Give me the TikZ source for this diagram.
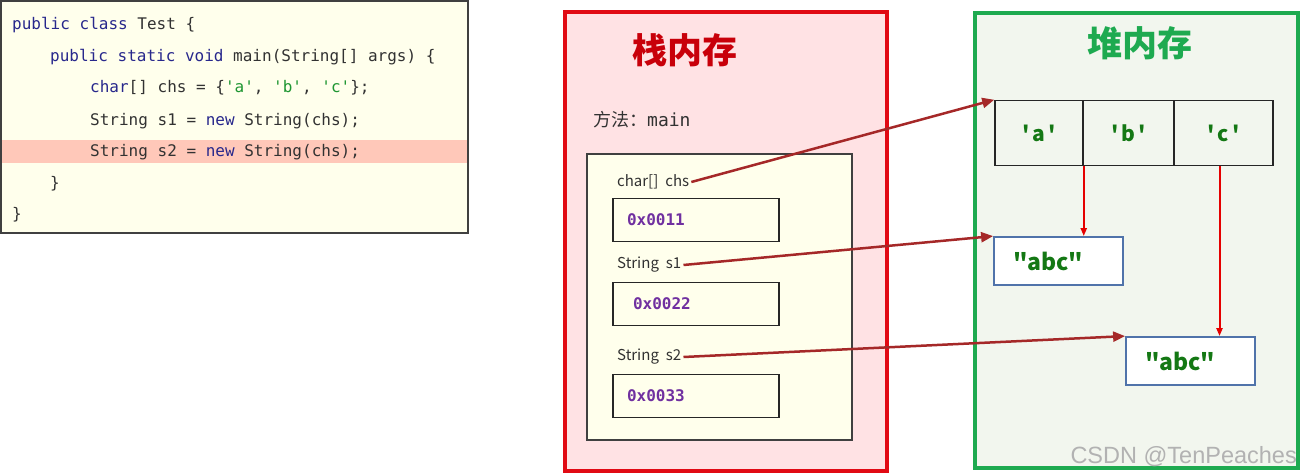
\documentclass[tikz,border=0pt]{standalone}
\usepackage{fontspec}
\setmonofont{DejaVu Sans Mono}
\newfontfamily\cjk{Noto Sans CJK SC}
\newfontfamily\wmfont{Liberation Sans}
\usepackage{xcolor}
\usetikzlibrary{arrows.meta,positioning}
\definecolor{codebg}{RGB}{255,255,236}
\definecolor{hlrow}{RGB}{255,200,185}
\definecolor{kwblue}{RGB}{40,40,140}
\definecolor{codegray}{RGB}{50,50,50}
\definecolor{chrgreen}{RGB}{30,150,50}
\definecolor{stackred}{RGB}{225,10,20}
\definecolor{stackbg}{RGB}{255,226,228}
\definecolor{stacktitle}{RGB}{200,0,10}
\definecolor{heapgreen}{RGB}{30,170,80}
\definecolor{heapbg}{RGB}{242,246,238}
\definecolor{addr}{RGB}{112,48,160}
\definecolor{ptr}{RGB}{165,40,40}
\definecolor{objblue}{RGB}{80,115,170}
\definecolor{valgreen}{RGB}{20,120,20}
\newcommand{\kw}[1]{\textcolor{kwblue}{#1}}
\newcommand{\chq}[1]{\textcolor{chrgreen}{\textquotesingle#1\textquotesingle}}
\tikzset{
  codeln/.style={anchor=base west, inner sep=0pt, text=codegray,
                 font=\ttfamily\fontsize{16}{18}\selectfont},
  varlab/.style={anchor=west, inner sep=2pt, text=codegray,
                 font=\cjk\fontsize{15}{17}\selectfont},
  addrbox/.style={draw=black!85, line width=1.5, minimum height=43,
                  text width=138, inner xsep=14, align=left,
                  font=\ttfamily\bfseries\fontsize{16}{18}\selectfont, text=addr},
  cell/.style={draw=black!85, line width=1.5, minimum height=65, text=valgreen,
               font=\cjk\bfseries\fontsize{21}{24}\selectfont},
  objbox/.style={draw=objblue, fill=white, line width=1.8, minimum height=48,
                 text width=91, inner xsep=19, align=left, text=valgreen,
                 font=\cjk\bfseries\fontsize{23}{26}\selectfont},
  ptr/.style={draw=ptr, line width=2.5, -{Triangle[length=12,width=10]}},
  link/.style={draw=red!90!black, line width=2, -{Triangle[length=8,width=6]}}
}
\begin{document}
\begin{tikzpicture}[x=1pt, y=-1pt]
  \useasboundingbox (0,0) rectangle (1303,476);

  % code panel
  \fill[codebg] (1,1) rectangle (468,233);
  \fill[hlrow] (1,140) rectangle (468,163);
  \draw[black!75, line width=1.5] (1,1) rectangle (468,233);
  \node[codeln] (l1) at (12,30)  {\kw{public class} Test \{};
  \node[codeln] (l2) at (50,62)  {\kw{public static void} main(String[] args) \{};
  \node[codeln] (l3) at (90,93)  {\kw{char}[] chs = \{\chq{a}, \chq{b}, \chq{c}\};};
  \node[codeln] (l4) at (90,125) {String s1 = \kw{new} String(chs);};
  \node[codeln] (l5) at (90,156) {String s2 = \kw{new} String(chs);};
  \node[codeln] (l6) at (50,188) {\}};
  \node[codeln] (l7) at (12,219) {\}};

  % stack
  \draw[stackred, line width=4, fill=stackbg] (565,12) rectangle (887,471);
  \node[text=stacktitle, font=\cjk\bfseries\fontsize{35}{40}\selectfont]
    (stitle) at (685,50) {栈内存};
  \node[anchor=west, inner sep=0pt, text=codegray, font=\fontsize{18}{20}\selectfont]
    (meth) at (593,120) {\cjk 方法：\ttfamily main};
  \draw[black!75, line width=1.5, fill=codebg] (587,154) rectangle (852,440);
  \foreach \n/\lab/\ly/\by/\val in {chs/{char[]\hspace{7pt}chs}/182/220/0x0011,
                                    s1/{String\hspace{7pt}s1}/265/304/\hspace*{6pt}0x0022,
                                    s2/{String\hspace{7pt}s2}/357/396/0x0033}{
    \node[varlab] (\n) at (615,\ly) {\lab};
    \node[addrbox] (v\n) at (696,\by) {\val};
  }

  % heap
  \draw[heapgreen, line width=4, fill=heapbg] (975,13) rectangle (1298,468);
  \node[text=heapgreen, font=\cjk\bfseries\fontsize{35}{40}\selectfont]
    (htitle) at (1140,43) {堆内存};
  \foreach \c/\x/\w in {a/1039/88, b/1128.5/91, c/1223.5/99}{
    \node[cell, minimum width=\w] (c\c) at (\x,133)
      {\textquotesingle\hspace{3pt}\c\hspace{3pt}\textquotesingle};
  }
  \node[objbox] (o1) at (1058.5,261) {\textquotedbl abc\textquotedbl};
  \node[objbox] (o2) at (1190.5,361) {\textquotedbl abc\textquotedbl};

  % references
  \draw[ptr] (chs.east) -- (ca.north west);
  \draw[ptr] (s1.east) -- (o1.north west);
  \draw[ptr] (s2.east) -- (o2.north west);
  \draw[link] (ca.south east) -- (ca.south east |- o1.north);
  \draw[link] ([xshift=-4pt]cc.south) -- ([xshift=-4pt]cc.south |- o2.north);

  \node[anchor=base east, inner sep=0pt, text=black!30,
        font=\wmfont\fontsize{23.5}{26}\selectfont] (wm) at (1297,463) {CSDN @TenPeaches};
\end{tikzpicture}
\end{document}
